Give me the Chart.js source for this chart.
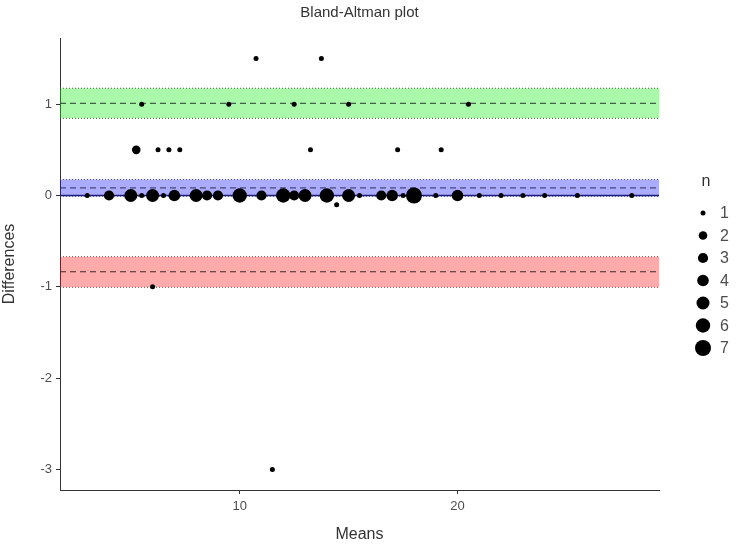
<!DOCTYPE html>
<html>
<head>
<meta charset="utf-8">
<script src="https://cdn.jsdelivr.net/npm/chart.js@4"></script>
<style>
  html, body { margin: 0; padding: 0; background: #fff; }
  #wrap { width: 738px; height: 551px; }
</style>
</head>
<body>
<div id="wrap"><canvas id="baChart"></canvas></div>
<script>
// observations (mean of two methods, difference, number of overlapping pairs)
const means = [3, 4, 5, 5.5, 6, 6.5, 7, 8, 8.5, 9, 10, 11, 12, 12.5, 13, 14, 15, 15.5, 16.5, 17,
               17.5, 18, 19, 20, 21, 22, 23, 24, 25.5, 28,
               14.45,
               5.5, 9.5, 12.5, 15, 20.5,
               10.75, 13.75,
               5.25, 6.25, 6.75, 7.25, 13.25, 17.25, 19.25,
               6, 11.5];
const diffs = [0, 0, 0, 0, 0, 0, 0, 0, 0, 0, 0, 0, 0, 0, 0, 0, 0, 0, 0, 0,
               0, 0, 0, 0, 0, 0, 0, 0, 0, 0,
               -0.1,
               1, 1, 1, 1, 1,
               1.5, 1.5,
               0.5, 0.5, 0.5, 0.5, 0.5, 0.5, 0.5,
               -1, -3];
const counts = [1, 3, 5, 1, 5, 1, 4, 5, 3, 3, 6, 3, 6, 3, 5, 6, 5, 1, 3, 4,
                1, 7, 1, 4, 1, 1, 1, 1, 1, 1,
                1,
                1, 1, 1, 1, 1,
                1, 1,
                2, 1, 1, 1, 1, 1, 1,
                1, 1];

const sizeLevels = [1, 2, 3, 4, 5, 6, 7];
const xTicks = [10, 20];
const yTicks = [-3, -2, -1, 0, 1];

// bias and limits of agreement with confidence intervals
const meanDiff = 0.083;
const meanCI = [-0.008, 0.175];
const upperLoA = 1.01;
const upperCI = [0.845, 1.175];
const lowerLoA = -0.835;
const lowerCI = [-1.005, -0.67];

const xRange = [1.75, 29.25];
const yRange = [-3.225, 1.725];

// point radius per n (px)
const radiusFor = n => [2.5, 4.3, 5.1, 5.8, 6.5, 7.2, 8][n - 1];

Chart.defaults.font.family = "'Liberation Sans', Arial, sans-serif";

function hline(y, color, dash, width, order, fill, bg) {
    return {
        type: 'line',
        data: [{ x: xRange[0], y: y }, { x: xRange[1], y: y }],
        borderColor: color,
        borderDash: dash,
        borderWidth: width,
        pointRadius: 0,
        fill: fill || false,
        backgroundColor: bg || 'transparent',
        order: order
    };
}

const dotColor = 'rgba(70,70,70,0.9)';
const datasets = [
    // blue band (bias CI)
    hline(meanCI[0], dotColor, [1, 2], 1, 4),
    hline(meanCI[1], dotColor, [1, 2], 1, 4, '-1', 'rgba(0,0,255,0.33)'),
    // green band (upper LoA CI)
    hline(upperCI[0], dotColor, [1, 2], 1, 4),
    hline(upperCI[1], dotColor, [1, 2], 1, 4, '-1', 'rgba(20,235,20,0.36)'),
    // red band (lower LoA CI)
    hline(lowerCI[0], dotColor, [1, 2], 1, 4),
    hline(lowerCI[1], dotColor, [1, 2], 1, 4, '-1', 'rgba(255,0,0,0.33)'),
    // dashed centre lines
    hline(meanDiff, '#2a2a55', [6, 4], 1, 3),
    hline(upperLoA, '#2a3a2a', [6, 4], 1, 3),
    hline(lowerLoA, '#3a2a2a', [6, 4], 1, 3),
    // zero line
    hline(0, '#1c1c7a', [], 1.3, 2),
    {
        type: 'scatter',
        data: means.map((m, i) => ({ x: m, y: diffs[i] })),
        backgroundColor: '#000',
        borderColor: '#000',
        borderWidth: 0,
        pointRadius: ctx => radiusFor(counts[ctx.dataIndex]),
        pointHoverRadius: ctx => radiusFor(counts[ctx.dataIndex]),
        order: 0
    }
];

const sizeKey = {
    id: 'sizeKey',
    afterDraw(chart) {
        const ctx = chart.ctx;
        const area = chart.chartArea;
        ctx.save();
        // title centred over the panel
        ctx.fillStyle = '#333';
        ctx.font = "15px 'Liberation Sans', Arial, sans-serif";
        ctx.textAlign = 'center';
        ctx.textBaseline = 'middle';
        ctx.fillText('Bland-Altman plot', (area.left + area.right) / 2, 13);

        // size legend
        ctx.font = "16px 'Liberation Sans', Arial, sans-serif";
        ctx.fillText('n', 706, 182);
        ctx.textAlign = 'left';
        sizeLevels.forEach((n, i) => {
            const y = 213 + i * 22.5;
            ctx.beginPath();
            ctx.arc(703, y, radiusFor(n), 0, Math.PI * 2);
            ctx.fillStyle = '#000';
            ctx.fill();
            ctx.fillStyle = '#4d4d4d';
            ctx.fillText(String(n), 720, y + 1);
        });
        ctx.restore();
    }
};

new Chart(document.getElementById('baChart').getContext('2d'), {
    data: { datasets: datasets },
    options: {
        responsive: true,
        maintainAspectRatio: false,
        animation: false,
        events: [],
        layout: { padding: { top: 38, right: 79, left: 0, bottom: 0 } },
        plugins: {
            legend: { display: false },
            tooltip: { enabled: false }
        },
        scales: {
            x: {
                type: 'linear',
                min: xRange[0],
                max: xRange[1],
                afterBuildTicks: s => { s.ticks = xTicks.map(v => ({ value: v })); },
                afterFit: s => { s.height = 61; },
                grid: { drawOnChartArea: false, tickLength: 4, color: '#333' },
                border: { color: '#333', width: 1 },
                ticks: { color: '#4d4d4d', font: { size: 13 }, padding: 5 },
                title: { display: true, text: 'Means', color: '#333', font: { size: 16 }, padding: { top: 0, bottom: 7 } }
            },
            y: {
                type: 'linear',
                min: yRange[0],
                max: yRange[1],
                afterBuildTicks: s => { s.ticks = yTicks.map(v => ({ value: v })); },
                afterFit: s => { s.width = 60; },
                grid: { drawOnChartArea: false, tickLength: 4, color: '#333' },
                border: { color: '#333', width: 1 },
                ticks: { color: '#4d4d4d', font: { size: 13 }, padding: 4 },
                title: { display: true, text: 'Differences', color: '#333', font: { size: 16 }, padding: { top: 0, bottom: 0 } }
            }
        }
    },
    plugins: [sizeKey]
});
</script>
</body>
</html>
